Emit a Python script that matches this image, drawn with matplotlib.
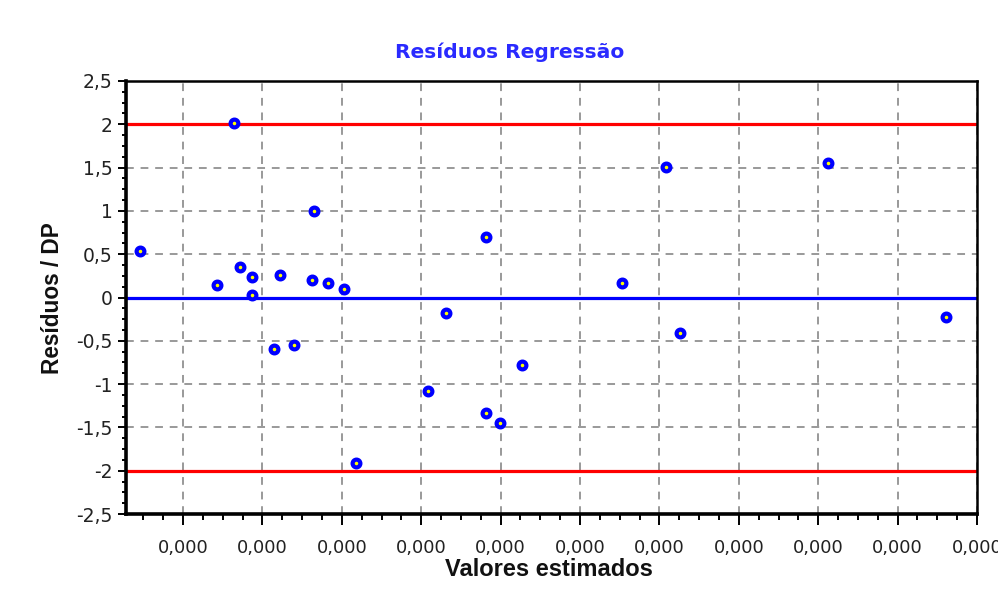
import matplotlib
matplotlib.use("Agg")
import matplotlib.pyplot as plt
from matplotlib.ticker import MultipleLocator, FixedLocator, FixedFormatter

# Data (x in grid-step units, labels all show 0,000)
x_vals = [0.458, 1.428, 1.642, 1.718, 1.869, 1.869, 2.146, 2.222, 2.398, 2.625,
          2.650, 2.826, 3.028, 3.179, 4.086, 4.312, 4.816, 4.816, 4.992, 5.270,
          6.529, 7.083, 7.259, 9.123, 10.610]
residuals = [0.54, 0.14, 2.01, 0.35, 0.24, 0.03, -0.59, 0.26, -0.55, 0.20,
             1.00, 0.17, 0.10, -1.91, -1.08, -0.18, 0.70, -1.33, -1.45, -0.78,
             0.17, 1.51, -0.41, 1.55, -0.22]
x_ticks = [1, 2, 3, 4, 5, 6, 7, 8, 9, 10, 11]
x_tick_labels = ["0,000"] * len(x_ticks)
y_ticks = [-2.5, -2, -1.5, -1, -0.5, 0, 0.5, 1, 1.5, 2, 2.5]
y_tick_labels = ["-2,5", "-2", "-1,5", "-1", "-0,5", "0", "0,5", "1", "1,5", "2", "2,5"]
limits = [-2, 2]

plt.rcParams['font.family'] = ['DejaVu Sans']
fig = plt.figure(figsize=(9.98, 6.03), dpi=100)
ax = fig.add_axes([126/998, 1-514/603, (977-126)/998, (514-81)/603])

ax.set_xlim(0.282, 11)
ax.set_ylim(-2.5, 2.5)

ax.xaxis.set_major_locator(FixedLocator(x_ticks))
ax.xaxis.set_major_formatter(FixedFormatter(x_tick_labels))
ax.xaxis.set_minor_locator(MultipleLocator(0.25))
ax.yaxis.set_major_locator(FixedLocator(y_ticks))
ax.yaxis.set_major_formatter(FixedFormatter(y_tick_labels))
ax.yaxis.set_minor_locator(MultipleLocator(0.125))

ax.grid(True, which='major', color='#999999', linestyle=(0, (4, 3.5)), linewidth=1.4)
ax.set_axisbelow(True)

for lim in limits:
    ax.axhline(lim, color='#ff0000', linewidth=2.3, zorder=2)
ax.axhline(0, color='#0000ff', linewidth=2.3, zorder=2)

ax.plot(x_vals, residuals, linestyle='none', marker='o', markersize=5.6,
        markerfacecolor='#ffff00', markeredgecolor='#0000ff', markeredgewidth=3.0,
        zorder=3, clip_on=False)

for s in ['left', 'bottom']:
    ax.spines[s].set_linewidth(2.6)
for s in ['top', 'right']:
    ax.spines[s].set_linewidth(1.8)
for s in ax.spines.values():
    s.set_color('black')

ax.tick_params(axis='x', which='major', length=8, width=1.4, direction='out', labelsize=13, pad=10, labelcolor='#222222')
ax.tick_params(axis='x', which='minor', length=4, width=1.4, direction='out')
ax.tick_params(axis='y', which='major', length=6, width=1.4, direction='out', labelsize=13.5, pad=3.5, labelcolor='#222222')
ax.tick_params(axis='y', which='minor', length=3, width=1.4, direction='out')

fig.text(510/998, 1-52/603, "Resíduos Regressão", color='#2a2aff', fontsize=14.6,
         fontweight='bold', ha='center', va='center')
fig.text(549/998, 1-570/603, "Valores estimados", color='#111111', fontsize=17,
         fontweight='bold', ha='center', va='center', family='Liberation Sans')
fig.text(53/998, 1-298/603, "Resíduos / DP", color='#111111', fontsize=16.3,
         fontweight='bold', ha='center', va='center', rotation=90, family='Liberation Sans')

fig.savefig("out.png", dpi=100)
